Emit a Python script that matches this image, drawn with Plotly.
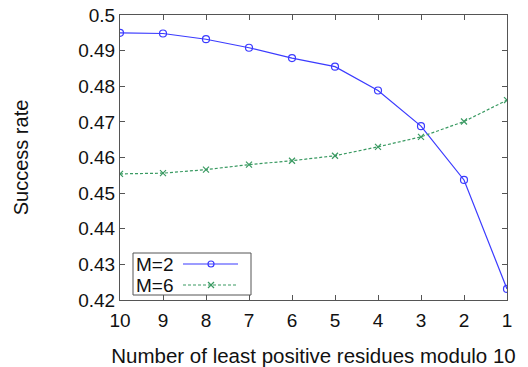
import plotly.graph_objects as go

x_vals = [10, 9, 8, 7, 6, 5, 4, 3, 2, 1]
m2_vals = [0.4950, 0.4948, 0.4932, 0.4908, 0.4879, 0.4855, 0.4788, 0.4688, 0.4537, 0.4231]
m6_vals = [0.4554, 0.4556, 0.4566, 0.4580, 0.4591, 0.4605, 0.4630, 0.4658, 0.4701, 0.4761]
y_ticks = [0.42, 0.43, 0.44, 0.45, 0.46, 0.47, 0.48, 0.49, 0.5]
y_tick_text = ["0.42", "0.43", "0.44", "0.45", "0.46", "0.47", "0.48", "0.49", "0.5"]
series_names = ["M=2", "M=6"]

FONT = "Liberation Sans, Arial, sans-serif"
BLUE = "#3b3bff"
GREEN = "#3a9a62"
GREEN_DASH = "3px,2px"

fig = go.Figure()
fig.add_trace(go.Scatter(
    x=x_vals, y=m2_vals, name=series_names[0], mode="lines+markers",
    line=dict(color=BLUE, width=1.2),
    marker=dict(symbol="circle-open", size=7, color=BLUE, line=dict(width=1.2)),
    showlegend=False,
))
fig.add_trace(go.Scatter(
    x=x_vals, y=m6_vals, name=series_names[1], mode="lines+markers",
    line=dict(color=GREEN, width=1.2, dash=GREEN_DASH),
    marker=dict(symbol="x-thin-open", size=6, color=GREEN, line=dict(width=1.2, color=GREEN)),
    showlegend=False,
))

axis_common = dict(
    showline=True, linecolor="#555555", linewidth=1, mirror="ticks",
    ticks="inside", ticklen=5, tickcolor="#555555",
    showgrid=False, zeroline=False, automargin=False,
    tickfont=dict(family=FONT, size=19, color="#111111"),
)

# --- custom legend (text left, sample right) in paper coordinates ---
L, R, T, B = 120, 507, 15, 300  # plot area in pixels
def px(x):
    return (x - L) / (R - L)
def py(y):
    return (B - y) / (B - T)

shapes = [dict(type="rect", xref="paper", yref="paper",
               x0=px(133), x1=px(251), y0=py(295), y1=py(253),
               line=dict(color="#555555", width=1), fillcolor="white", layer="above")]
annotations = []
rows = [(264, BLUE, "solid", "circle"), (285, GREEN, GREEN_DASH, "x")]
for name, (ry, col, dash, sym) in zip(series_names, rows):
    annotations.append(dict(xref="paper", yref="paper", x=px(134), y=py(ry),
                            xanchor="left", yanchor="middle", text=name, showarrow=False,
                            font=dict(family=FONT, size=19, color="#111111")))
    shapes.append(dict(type="line", xref="paper", yref="paper",
                       x0=px(183), x1=px(238), y0=py(ry), y1=py(ry),
                       line=dict(color=col, width=1.2, dash=dash), layer="above"))
    if sym == "circle":
        shapes.append(dict(type="circle", xref="paper", yref="paper",
                           xsizemode="pixel", ysizemode="pixel",
                           xanchor=px(211), yanchor=py(ry),
                           x0=-3, x1=3, y0=-3, y1=3,
                           line=dict(color=col, width=1.2), layer="above"))
    else:
        for s in (1, -1):
            shapes.append(dict(type="line", xref="paper", yref="paper",
                               xsizemode="pixel", ysizemode="pixel",
                               xanchor=px(211), yanchor=py(ry),
                               x0=-3, x1=3, y0=-3 * s, y1=3 * s,
                               line=dict(color=col, width=1.2), layer="above"))

fig.update_layout(
    width=528, height=367,
    margin=dict(l=L, r=528 - R, t=T, b=367 - B),
    paper_bgcolor="white", plot_bgcolor="white",
    font=dict(family=FONT, color="#111111"),
    showlegend=False,
    xaxis=dict(
        range=[10, 1], tickvals=x_vals, ticktext=[str(v) for v in x_vals],
        title=dict(text="Number of least positive residues modulo 10", font=dict(size=20.5), standoff=18),
        ticklabelstandoff=3,
        **axis_common,
    ),
    yaxis=dict(
        range=[0.42, 0.5], tickvals=y_ticks, ticktext=y_tick_text,
        title=dict(text="Success rate", font=dict(size=20), standoff=44),
        **axis_common,
    ),
    shapes=shapes,
    annotations=annotations,
)

fig.write_html("out.html", config={"displayModeBar": False},
               post_script="document.body.style.margin='0';document.body.style.padding='0';")
